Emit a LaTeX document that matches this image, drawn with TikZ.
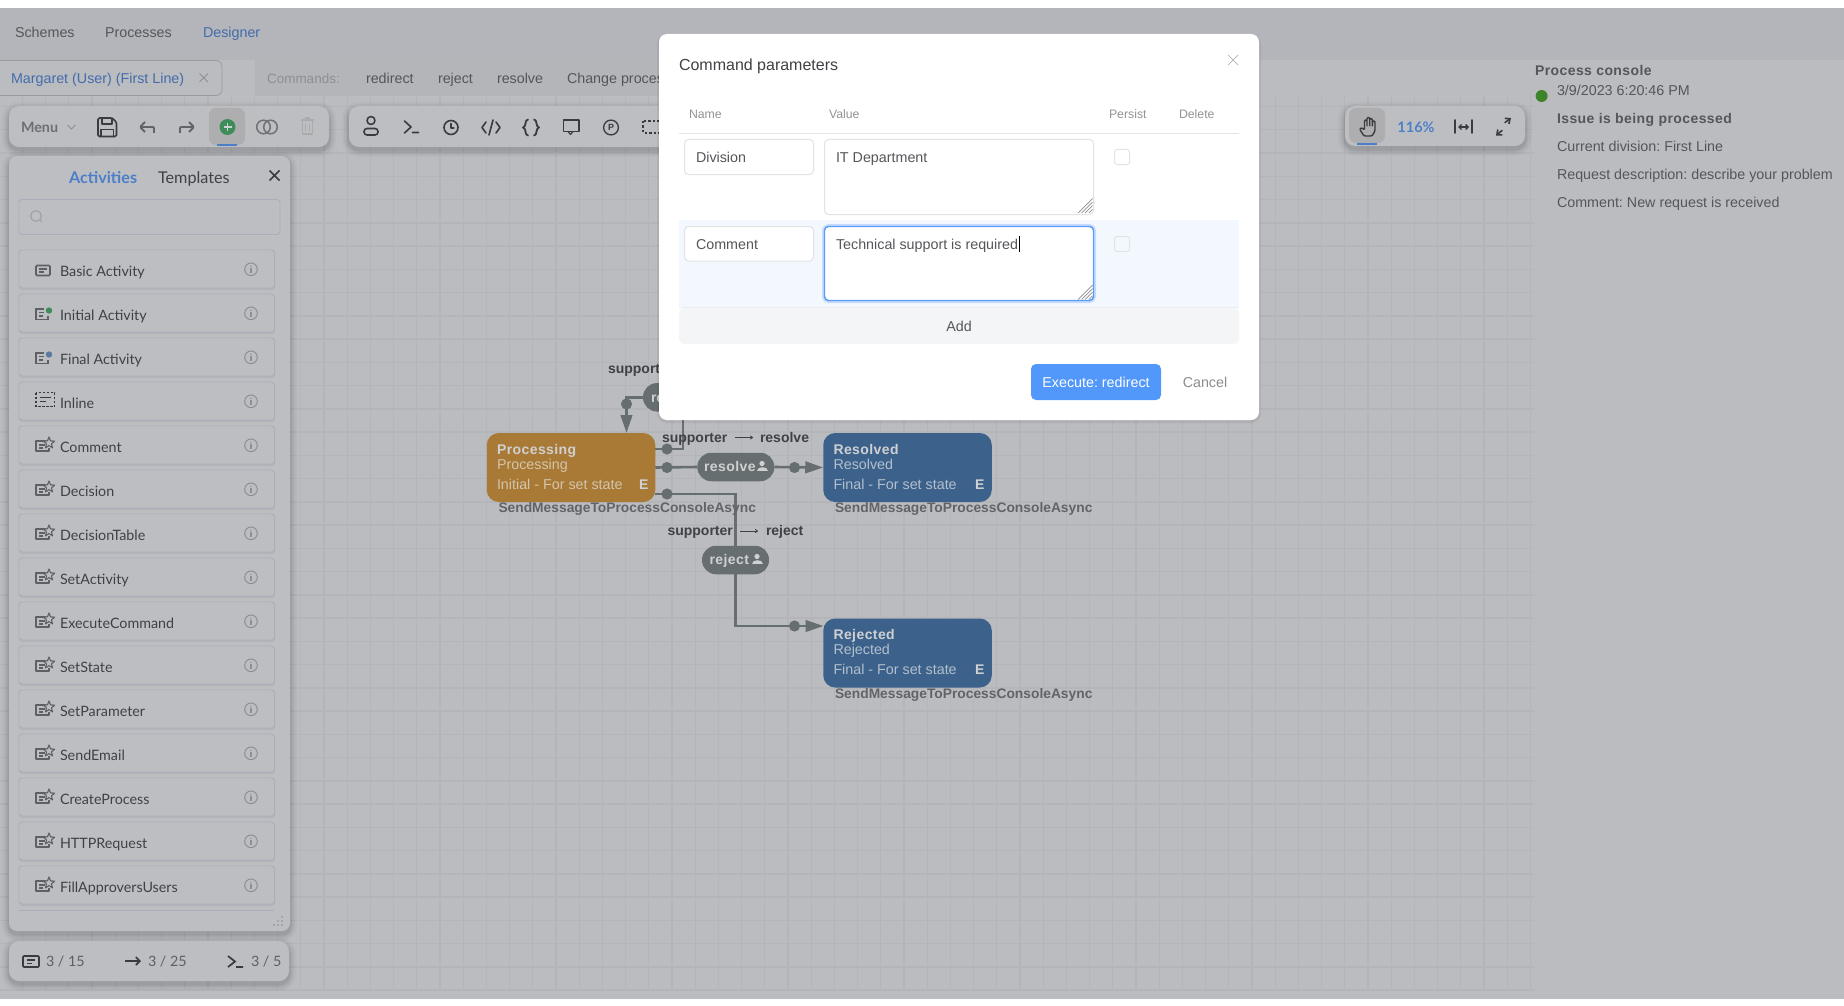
\documentclass[tikz,border=0pt]{standalone}
\usepackage{fontspec}
\setmainfont{Liberation Sans}
\newfontfamily\lato{Lato}
\usetikzlibrary{arrows.meta,shapes.geometric,calc}
\definecolor{topband}{HTML}{B4B5BA}
\definecolor{canvasbg}{HTML}{BBBCC0}
\definecolor{gridc}{HTML}{B4B5B9}
\definecolor{panelc}{HTML}{BDBEC2}
\definecolor{itemb}{HTML}{ABACBC}
\definecolor{connc}{HTML}{676E70}
\definecolor{darktxt}{HTML}{3F4144}
\definecolor{midtxt}{HTML}{55565A}
\definecolor{icond}{HTML}{3A3B3F}
\definecolor{iconm}{HTML}{5F6064}
\definecolor{iconl}{HTML}{8E8F93}
\definecolor{linkb}{HTML}{4D7FC9}
\definecolor{orangeb}{HTML}{A97A35}
\definecolor{blueb}{HTML}{3C628C}
\definecolor{lighttxt}{HTML}{CFD0D2}
\definecolor{dimorange}{HTML}{D3C5AE}
\definecolor{dimblue}{HTML}{B4BFCC}
\definecolor{asynctxt}{HTML}{606469}
\definecolor{inputb}{HTML}{E2E3E6}
\definecolor{focusb}{HTML}{5A9CF8}
\definecolor{rowblue}{HTML}{F3F8FE}
\definecolor{addbg}{HTML}{F4F5F7}
\definecolor{execb}{HTML}{5298FA}
\definecolor{greenadd}{HTML}{3D8C5A}
\definecolor{greendot}{HTML}{44912F}
\tikzset{
  x=1pt,y=-1pt,
  lbl/.style={anchor=base west,inner sep=0pt,outer sep=0pt},
  ctr/.style={anchor=base,inner sep=0pt,outer sep=0pt},
  f14/.style={font=\fontsize{14.3}{16}\selectfont},
  f14b/.style={font=\fontsize{14}{16}\selectfont\bfseries},
  f12/.style={font=\fontsize{12.3}{14}\selectfont},
  f16/.style={font=\fontsize{16}{18}\selectfont},
  l15/.style={font=\lato\fontsize{14.3}{17}\selectfont},
  conn/.style={draw=connc,line width=2.6pt},
  tipped/.style={-{Triangle[length=18pt,width=11.5pt,fill=connc]}},
  statebox/.style={rectangle,rounded corners=12pt,minimum width=168.5pt,minimum height=69pt,inner sep=0pt,outer sep=0pt},
  pillbox/.style={rectangle,rounded corners=14pt,fill=connc,minimum height=28.5pt,inner sep=0pt,outer sep=0pt},
  ic/.style={draw=icond,line width=1.6pt,line cap=round,line join=round},
  hatch/.style={draw=gray!90,line width=.7pt},
  pics/person/.style={code={
    \fill[lighttxt] (0,-3.5) circle (2.6pt);
    \fill[lighttxt] (-5.5,4) .. controls (-5.5,-1) and (5.5,-1) .. (5.5,4) -- cycle;
  }},
  pics/info/.style={code={
    \draw[iconl,line width=1pt] (0,0) circle (6.3pt);
    \fill[iconl] (0,-3) circle (.8pt);
    \draw[iconl,line width=1.1pt] (0,-1) -- (0,3.5);
  }},
  pics/starico/.style={code={
    \draw[iconm,line width=1.5pt,line join=round] (10,-1) -- (0,-1) -- (0,9) -- (13,9) -- (13,6);
    \draw[iconm,line width=1.2pt] (3,3) -- (9,3) (3,6) -- (7,6);
    \begin{scope}[shift={(13,1)}]
    \draw[iconm,line width=1.1pt,line join=round,fill=panelc] (-90:6) -- (-54:2.6) -- (-18:6) -- (18:2.6) -- (54:6) -- (90:2.6) -- (126:6) -- (162:2.6) -- (198:6) -- (234:2.6) -- cycle;
    \end{scope}
  }},
}
\newcommand\softbox[6][10]{%
  \foreach \e/\o in {7/.025,5/.035,3/.05,1.5/.06}{%
    \fill[black,opacity=\o,rounded corners=#1pt+\e pt] (#2-\e,#3-\e+3) rectangle (#4+\e,#5+\e+3);}%
  \fill[#6,rounded corners=#1pt] (#2,#3) rectangle (#4,#5);}
\begin{document}
\frenchspacing
\begin{tikzpicture}
\useasboundingbox (0,0) rectangle (1844,1006);
% page
\fill[white] (0,0) rectangle (1844,1006);
\fill[canvasbg] (0,8) rectangle (1844,999);
\fill[topband] (0,8) rectangle (1844,60);
% grid
\foreach \k in {0,...,65}{\draw[gridc,line width=1.3pt] ({1530.4-23.2*\k},96) -- ({1530.4-23.2*\k},990);}
\foreach \k in {0,...,38}{\draw[gridc,line width=1.5pt] (0,{990-23.25*\k}) -- (1534,{990-23.25*\k});}
\fill[canvasbg] (0,60) rectangle (1844,96);
% header
\node[lbl,f14,text=midtxt] (nSchemes) at (15,38) {Schemes};
\node[lbl,f14,text=midtxt] (nProcesses) at (105,38) {Processes};
\node[lbl,f14,text=linkb!85!black] (nDesigner) at (203,38) {Designer};
% tab row
\draw[gray!55!canvasbg,line width=.8pt,rounded corners=6pt,fill=canvasbg] (-6,60.5) -- (222,60.5) -- (222,95.5) -- (-6,95.5);
\node[lbl,f14,text=linkb!85!black] (nTab) at (11,84) {Margaret (User) (First Line)};
\draw[iconl,line width=1pt] (199.5,73.5) -- (208,82) (208,73.5) -- (199.5,82);
\fill[canvasbg!96!black] (255,60) rectangle (700,96);
\node[lbl,font=\fontsize{13.5}{16}\selectfont,text=iconl] (nCmd) at (267,84) {Commands:};
\node[lbl,f14,text=midtxt] (nRedirect) at (366,84) {redirect};
\node[lbl,f14,text=midtxt] (nReject) at (438,84) {reject};
\node[lbl,f14,text=midtxt] (nResolve) at (497,84) {resolve};
\node[lbl,f14,text=midtxt] (nChange) at (567,84) {Change proces};
% workflow
\node[statebox,fill=orangeb] (proc) at (571,467.5) {};
\node[statebox,fill=blueb] (resolved) at (907.5,467.5) {};
\node[statebox,fill=blueb] (rejected) at (907.5,653) {};
\node[pillbox,minimum width=77pt] (pillresolve) at (735.8,467) {};
\node[pillbox,minimum width=67pt] (pillreject) at (735.5,560) {};
\node[pillbox,minimum width=90pt] (pillredirect) at (688,397.3) {};
\coordinate (t1) at (626.5,433);
\coordinate (d0) at (626.5,404);
\coordinate (p1) at (655,449);
\coordinate (d1) at (667,449);
\coordinate (u1) at (683,405);
\coordinate (p3) at (655,494);
\coordinate (d3) at (667,494);
\coordinate (d2) at (667,467.5);
\coordinate (d4) at (794.5,467.5);
\coordinate (r3) at (823.5,626);
\coordinate (d5) at (794.5,626);
\draw[conn,tipped] (pillredirect.west) -| (t1);
\draw[conn,line join=miter] (p1) -| (u1);
\draw[conn] (proc.east) -- (pillresolve.west);
\draw[conn,tipped] (pillresolve.east) -- (resolved.west);
\draw[conn] (p3) -| (pillreject.north);
\draw[conn,tipped] (pillreject.south) |- (r3);
\foreach \d in {d0,d1,d2,d3,d4,d5}{\fill[connc] (\d) circle (5.6pt);}
% state texts
\node[lbl,f14b,text=lighttxt] (pT1) at (497,454) {\addfontfeature{LetterSpace=3}Processing};
\node[lbl,f14,text=dimorange] (pT2) at (497,469) {Processing};
\node[lbl,f14,text=dimorange] (pT3) at (497,489) {Initial - For set state};
\node[lbl,f14b,text=lighttxt] (pE) at (639,489) {E};
\node[lbl,font=\fontsize{13.8}{16}\selectfont\bfseries,text=asynctxt] (pA) at (498.5,512) {SendMessageToProcessConsoleAsync};
\node[lbl,f14b,text=lighttxt] (rT1) at (833.5,454) {\addfontfeature{LetterSpace=3}Resolved};
\node[lbl,f14,text=dimblue] (rT2) at (833.5,469) {Resolved};
\node[lbl,f14,text=dimblue] (rT3) at (833.5,489) {Final - For set state};
\node[lbl,f14b,text=lighttxt] (rE) at (975,489) {E};
\node[lbl,font=\fontsize{13.8}{16}\selectfont\bfseries,text=asynctxt] (rA) at (835,512) {SendMessageToProcessConsoleAsync};
\node[lbl,f14b,text=lighttxt] (xT1) at (833.5,639) {\addfontfeature{LetterSpace=3}Rejected};
\node[lbl,f14,text=dimblue] (xT2) at (833.5,654) {Rejected};
\node[lbl,f14,text=dimblue] (xT3) at (833.5,674) {Final - For set state};
\node[lbl,f14b,text=lighttxt] (xE) at (975,674) {E};
\node[lbl,font=\fontsize{13.8}{16}\selectfont\bfseries,text=asynctxt] (xA) at (835,698) {SendMessageToProcessConsoleAsync};
% pill texts
\node[lbl,f14b,text=lighttxt] (prT) at (704,471) {\addfontfeature{LetterSpace=3}resolve};
\pic at (762,467) {person};
\node[lbl,f14b,text=lighttxt] (pjT) at (709.5,564) {\addfontfeature{LetterSpace=3}reject};
\pic at (757,560) {person};
\node[lbl,f14b,text=lighttxt] (pdT) at (651,402) {re};
% edge labels
\node[lbl,f14b,text=darktxt] (lbS0) at (608,373) {support};
\node[lbl,f14b,text=darktxt] (lbS1) at (662,442) {supporter};
\node[lbl,f14b,text=darktxt] (lbR1) at (760,442) {resolve};
\node[lbl,f14b,text=darktxt] (lbS2) at (667.5,535.5) {supporter};
\node[lbl,f14b,text=darktxt] (lbR2) at (766,535.5) {reject};
\draw[darktxt,line width=.8pt,-{To[length=3pt,width=4pt]}] (735,437.5) -- (753,437.5);
\draw[darktxt,line width=.8pt,-{To[length=3pt,width=4pt]}] (740,531) -- (758,531);
% toolbar 1
\softbox[10]{9}{106}{329}{147}{panelc}
\node[lbl,font=\lato\fontsize{14.3}{17}\selectfont\bfseries,text=iconm!85!panelc] (nMenu) at (21,132) {Menu};
\draw[iconl,line width=.9pt] (67.5,125) -- (71.5,129) -- (75.5,125);
% save
\draw[ic,rounded corners=1.5pt] (98,118) -- (112,118) -- (116.5,122) -- (116.5,136.5) -- (98,136.5) -- cycle;
\draw[ic,line width=1.3pt] (102,118) -- (102,124) -- (112,124) -- (112,118) (101,136.5) -- (101,129.5) -- (113.5,129.5) -- (113.5,136.5);
% undo redo
\draw[iconl!70!black,line width=1.8pt,line join=round,rounded corners=1pt] (154,133) -- (154,127) -- (140,127) (145,122) -- (140,127) -- (145,132);
\draw[iconl!70!black,line width=1.8pt,line join=round,rounded corners=1pt] (180,133) -- (180,127) -- (194,127) (189,122) -- (194,127) -- (189,132);
% active add
\fill[gray!25!panelc,rounded corners=7pt] (209,108) rectangle (245,145);
\fill[linkb] (217,144) rectangle (237,146);
\fill[greenadd] (227.5,127) circle (8pt);
\draw[lighttxt,line width=1.1pt] (223.5,127) -- (231.5,127) (227.5,123) -- (227.5,131);
\draw[iconl!80!black,line width=1.5pt] (263.5,127) circle (6.8pt) (270.5,127) circle (6.8pt);
\draw[gray!30!panelc,line width=1.7pt] (301,120) -- (314,120) (305,118) -- (310,118) (302.5,120) -- (302.5,134) -- (312.5,134) -- (312.5,120) (305.5,124) -- (305.5,131) (309.5,124) -- (309.5,131);
% toolbar 2
\softbox[10]{349}{106}{680}{147}{panelc}
\draw[ic] (371,120.5) circle (4pt);
\draw[ic,rounded corners=3pt] (364,128.5) rectangle (378,135);
\draw[ic] (404.5,121) -- (411,127) -- (404.5,133) (412.5,132.5) -- (418.5,132.5);
\draw[ic] (451,127.5) circle (7pt);
\draw[ic,line width=1.3pt] (451,123.5) -- (451,128) -- (454,128);
\draw[ic] (486,122) -- (482,127.5) -- (486,133) (496,122) -- (500,127.5) -- (496,133) (493,120) -- (489,135);
\draw[ic,line width=1.8pt] (528,119.5) .. controls (524.5,119.5) and (526.5,127) .. (523,127.5) .. controls (526.5,128) and (524.5,135.5) .. (528,135.5);
\draw[ic,line width=1.8pt] (534,119.5) .. controls (537.5,119.5) and (535.5,127) .. (539,127.5) .. controls (535.5,128) and (537.5,135.5) .. (534,135.5);
\draw[ic,line join=round] (563.5,120) rectangle (579,131.5);
\draw[ic,line width=1.2pt] (568,131.5) -- (570.5,134.5) -- (573,131.5);
\draw[ic,line width=1.3pt] (611,127.5) circle (7.4pt);
\node[ctr,font=\fontsize{9}{9}\selectfont\bfseries,text=icond] (nP) at (611,131) {P};
\draw[ic,dashed,dash pattern=on 2.5pt off 2pt,line cap=butt] (643,121) rectangle (664,133);
% toolbar 3
\softbox[10]{1345}{106}{1525}{146}{panelc}
\fill[gray!25!panelc,rounded corners=7pt] (1349,108) rectangle (1385,143);
\fill[linkb] (1357,143) rectangle (1377,145.5);
\draw[ic,line width=1.4pt,rounded corners=1.2pt] (1364,136) -- (1359.5,129) -- (1361.5,127.5) -- (1364.5,130) -- (1364.5,120) -- (1367,120) -- (1367,127) -- (1367,117.5) -- (1369.7,117.5) -- (1369.7,127) -- (1369.7,118.5) -- (1372.3,118.5) -- (1372.3,127) -- (1372.3,121) -- (1375,121) -- (1375,131) -- (1372,136) -- cycle;
\node[ctr,font=\lato\fontsize{14.5}{16}\selectfont\bfseries,text=linkb] (nZoom) at (1416,132) {116\%};
\draw[ic] (1455,120) -- (1455,133) (1472,120) -- (1472,133);
\draw[ic,line width=1.4pt,{Straight Barb[length=2.5pt,width=5pt]}-{Straight Barb[length=2.5pt,width=5pt]}] (1458,127) -- (1469,127);
\draw[ic,-{Straight Barb[length=4pt,width=7pt]}] (1505,122.5) -- (1511,118);
\draw[ic,-{Straight Barb[length=4pt,width=7pt]}] (1502,130.5) -- (1496,135.5);
% activities panel
\softbox[8]{9}{156}{290}{931}{panelc}
\node[lbl,font=\lato\fontsize{16.2}{18}\selectfont\bfseries,text=linkb] (nAct) at (69,183) {Activities};
\node[lbl,font=\lato\fontsize{16.2}{18}\selectfont,text=darktxt] (nTpl) at (158,183) {Templates};
\draw[icond,line width=1.5pt] (269.5,170.5) -- (279.5,180.5) (279.5,170.5) -- (269.5,180.5);
\draw[itemb,line width=.9pt,rounded corners=3pt] (19,199.5) rectangle (280,234.5);
\draw[iconl!70!panelc,line width=1pt] (36,216) circle (5.4pt) (40,220) -- (42,222);
\foreach \t [count=\i from 0, evaluate=\i as \yy using 250+44*\i] in {Basic Activity,Initial Activity,Final Activity,Inline,Comment,Decision,DecisionTable,SetActivity,ExecuteCommand,SetState,SetParameter,SendEmail,CreateProcess,HTTPRequest,FillApproversUsers}{
  \fill[black,opacity=.05,rounded corners=3pt] (19,\yy+1.5) rectangle (275,\yy+40);
  \draw[itemb,line width=.9pt,fill=panelc,rounded corners=3pt] (19,\yy) rectangle (274.5,\yy+38);
  \node[lbl,l15,text=darktxt] (item\i) at (60,\yy+26.5) {\t};
  \pic at (251,\yy+19.3) {info};
}
\draw[itemb,line width=.9pt] (19,910.5) -- (274,910.5);
% item icons
\draw[iconm,line width=1.6pt,rounded corners=1pt] (36,265.5) rectangle (50,275.5);
\draw[iconm,line width=1.2pt] (39,269) -- (47,269) (39,272) -- (44,272);
\draw[iconm,line width=1.5pt] (44,309) -- (36,309) -- (36,319.5) -- (48,319.5) -- (48,315.5);
\draw[iconm,line width=1.1pt] (39,312.5) -- (44,312.5) (39,316) -- (43,316);
\fill[greenadd] (49,310.5) circle (3.2pt);
\draw[iconm,line width=1.5pt] (44,353) -- (36,353) -- (36,363.5) -- (48,363.5) -- (48,359.5);
\draw[iconm,line width=1.1pt] (39,356.5) -- (44,356.5) (39,360) -- (43,360);
\fill[blueb!85!white] (49,354.5) circle (3.2pt);
\draw[icond,line width=1.5pt,dash pattern=on 2.5pt off 1.5pt] (36,392.5) rectangle (54.5,406.5);
\draw[icond,line width=1.2pt] (40,397.5) -- (51,397.5) (40,401.5) -- (46,401.5);
\foreach \i in {4,...,14}{\pic at (36,{250+44*\i+16}) {starico};}
\foreach \a/\b in {278/921,282/921,282/917,278/925,282/925,274/925}{\fill[iconl] (\a,\b) circle (.8pt);}
% status bar
\softbox[10]{9}{941}{289}{981}{panelc}
\draw[icond,line width=1.7pt,rounded corners=1pt] (23,956) rectangle (39,967);
\draw[icond,line width=1.3pt] (27,960) -- (35,960) (27,963.5) -- (32,963.5);
\node[lbl,l15,text=iconm] (nSa) at (46,966.5) {3 / 15};
\draw[icond,line width=1.6pt,-{Straight Barb[length=4pt,width=8pt]}] (125,961) -- (141,961);
\node[lbl,l15,text=iconm] (nSb) at (148,966.5) {3 / 25};
\draw[icond,line width=1.7pt] (228,956) -- (235,961.5) -- (228,967) (236,967) -- (243,967);
\node[lbl,l15,text=iconm] (nSc) at (251,966.5) {3 / 5};
% console
\node[lbl,f14b,text=midtxt] (cT) at (1535,75.5) {\addfontfeature{LetterSpace=3}Process console};
\fill[greendot!90!black] (1541.6,96) circle (6pt);
\node[lbl,f14,text=midtxt] (cD) at (1557,95.5) {3/9/2023 6:20:46 PM};
\node[lbl,f14b,text=midtxt] (c1) at (1557,123.5) {\addfontfeature{LetterSpace=3}Issue is being processed};
\node[lbl,f14,text=midtxt] (c2) at (1557,151) {Current division: First Line};
\node[lbl,f14,text=midtxt] (c3) at (1557,179) {Request description: describe your problem};
\node[lbl,f14,text=midtxt] (c4) at (1557,207) {Comment: New request is received};
% dialog
\fill[black,opacity=.06,rounded corners=10pt] (657,34) rectangle (1261,423);
\fill[white,rounded corners=8pt] (659,34) rectangle (1259,420);
\node[lbl,f16,text=darktxt] (dT) at (679,70.5) {Command parameters};
\draw[gray!60,line width=.7pt] (1228,55) -- (1238,65) (1238,55) -- (1228,65);
\node[lbl,f12,text=gray!85] (hN) at (689,118.5) {Name};
\node[lbl,f12,text=gray!85] (hV) at (829,118.5) {Value};
\node[lbl,f12,text=gray!85] (hP) at (1109,118.5) {Persist};
\node[lbl,f12,text=gray!85] (hD) at (1179,118.5) {Delete};
\draw[gray!20,line width=.8pt] (679,133.5) -- (1239,133.5);
\fill[rowblue] (679,220) rectangle (1239,307);
\draw[gray!15,line width=.7pt] (679,307) -- (1239,307);
\fill[addbg,rounded corners=5pt] (679,308) rectangle (1239,344);
% inputs
\draw[inputb,line width=1pt,fill=white,rounded corners=4pt] (684.5,139.5) rectangle (813.5,174.5);
\draw[inputb,line width=1pt,fill=white,rounded corners=4pt] (824.5,139.5) rectangle (1093.5,214.5);
\draw[inputb,line width=1pt,fill=white,rounded corners=4pt] (684.5,226.5) rectangle (813.5,261);
\draw[focusb!35!white,line width=3pt,rounded corners=5pt] (823.5,225.5) rectangle (1094.5,301.5);
\draw[focusb,line width=1.4pt,fill=white,rounded corners=4pt] (824.5,226.5) rectangle (1093.5,300.5);
\draw[inputb,line width=1pt,rounded corners=2.5pt] (1114.5,149.5) rectangle (1129.5,164.5);
\draw[inputb,line width=1pt,rounded corners=2.5pt] (1114.5,236.5) rectangle (1129.5,251.5);
\foreach \yb in {213,299.5}{
  \foreach \s in {0,3.6,7.2,10.8}{\draw[hatch] (1078+\s,\yb) -- (1092.5,\yb-14.5+\s);}
}
\node[lbl,f14,text=midtxt] (vDiv) at (696,162) {Division};
\node[lbl,f14,text=midtxt] (vIT) at (836,162) {IT Department};
\node[lbl,f14,text=midtxt] (vCom) at (696,249) {Comment};
\node[lbl,f14,text=midtxt] (vTech) at (836,249) {Technical support is required};
\draw[black,line width=.7pt] (1019,236) -- (1019,252);
\node[ctr,f14,text=midtxt] (vAdd) at (959,331) {Add};
\fill[execb,rounded corners=5pt] (1031,364) rectangle (1161,400);
\node[ctr,f14,text=white] (vExec) at (1096,387) {Execute: redirect};
\node[ctr,f14,text=gray!90] (vCancel) at (1205,387) {Cancel};
\end{tikzpicture}
\end{document}
